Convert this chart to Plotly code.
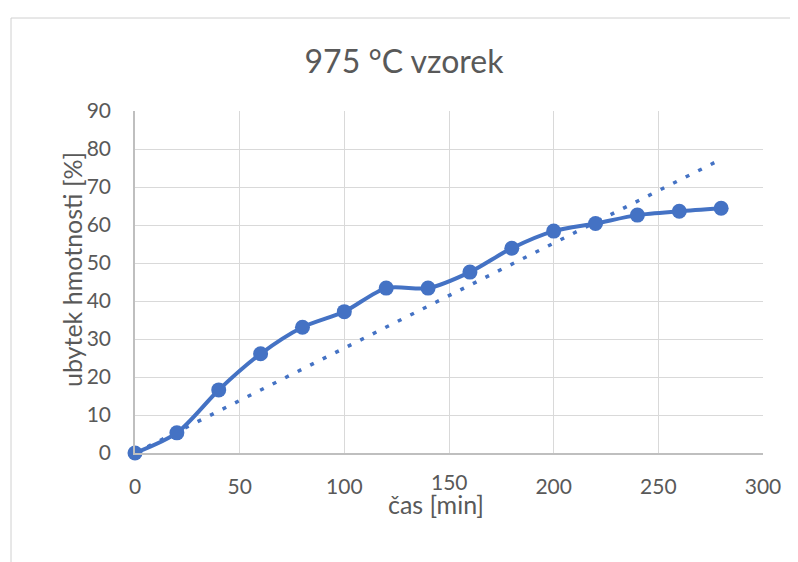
import plotly.graph_objects as go

time_min = [0, 20, 40, 60, 80, 100, 120, 140, 160, 180, 200, 220, 240, 260, 280]
mass_loss = [0, 5.3, 16.6, 26.1, 33.1, 37.2, 43.4, 43.4, 47.6, 53.9, 58.4, 60.4, 62.6, 63.6, 64.4]

# linear trendline endpoints (as drawn)
trend_x = [0, 280]
trend_y = [0, 77.3]

x_ticks = [0, 50, 100, 150, 200, 250, 300]
x_labels = ["0", "50", "100", "", "200", "250", "300"]  # 150 is drawn a little higher, as in the original
y_ticks = [0, 10, 20, 30, 40, 50, 60, 70, 80, 90]

BLUE = "#4472C4"
GRID = "#D9D9D9"
TEXT = "#595959"
FONT = "Lato"

# page body adds an 8 px offset, so the figure is a bit smaller than the window
OFF = 8
W, H = 790, 554
L, T = 135 - OFF, 111 - OFF
R = W - (763 - OFF)
B = H - (453 - OFF)
pw, ph = W - L - R, H - T - B


def px_x(px):
    return (px - OFF - L) / pw


def px_y(py):
    return (H - B - (py - OFF)) / ph


fig = go.Figure()

fig.add_trace(
    go.Scatter(
        x=trend_x,
        y=trend_y,
        mode="lines",
        line={"color": BLUE, "width": 3.5, "dash": "4px,10px"},
        showlegend=False,
        hoverinfo="skip",
        cliponaxis=False,
    )
)

fig.add_trace(
    go.Scatter(
        x=time_min,
        y=mass_loss,
        mode="lines+markers",
        line={"color": BLUE, "width": 4, "shape": "spline", "smoothing": 0.8},
        marker={"color": BLUE, "size": 15},
        showlegend=False,
        cliponaxis=False,
    )
)

fig.update_layout(
    width=W,
    height=H,
    margin={"l": L, "r": R, "t": T, "b": B},
    paper_bgcolor="white",
    plot_bgcolor="white",
    font={"family": FONT, "color": TEXT, "size": 21},
    title={
        "text": "975 °C vzorek",
        "x": px_x(404),
        "xref": "paper",
        "xanchor": "center",
        "y": 1 - (62 - OFF) / H,
        "yanchor": "middle",
        "font": {"family": FONT, "size": 32, "color": TEXT},
    },
    shapes=[
        {
            "type": "rect",
            "xref": "paper",
            "yref": "paper",
            "x0": px_x(11),
            "x1": px_x(830),
            "y0": px_y(600),
            "y1": px_y(18),
            "line": {"color": "#D0D0D0", "width": 1},
            "layer": "below",
        }
    ],
    annotations=[
        {
            "text": "150",
            "xref": "x",
            "yref": "paper",
            "x": 150,
            "y": px_y(481),
            "xanchor": "center",
            "yanchor": "middle",
            "showarrow": False,
            "font": {"family": FONT, "size": 21, "color": TEXT},
        },
        {
            "text": "čas [min]",
            "xref": "paper",
            "yref": "paper",
            "x": px_x(436),
            "y": px_y(504),
            "xanchor": "center",
            "yanchor": "middle",
            "showarrow": False,
            "font": {"family": FONT, "size": 25, "color": TEXT},
        },
        {
            "text": "ubytek hmotnosti [%]",
            "xref": "paper",
            "yref": "paper",
            "x": px_x(72),
            "y": px_y(270),
            "xanchor": "center",
            "yanchor": "middle",
            "textangle": -90,
            "showarrow": False,
            "font": {"family": FONT, "size": 25, "color": TEXT},
        },
    ],
)

fig.update_xaxes(
    range=[0, 300],
    tickvals=x_ticks,
    ticktext=x_labels,
    showgrid=True,
    gridcolor=GRID,
    gridwidth=1.3,
    showline=True,
    linecolor="#BFBFBF",
    linewidth=1.5,
    zeroline=False,
    ticks="",
    ticklabelstandoff=14,
    fixedrange=True,
)

fig.update_yaxes(
    range=[0, 90],
    tickvals=y_ticks,
    showgrid=True,
    gridcolor=GRID,
    gridwidth=1.3,
    showline=True,
    linecolor="#BFBFBF",
    linewidth=1.5,
    zeroline=False,
    ticks="",
    ticklabelstandoff=18,
    fixedrange=True,
)

fig.write_html("out.html")
